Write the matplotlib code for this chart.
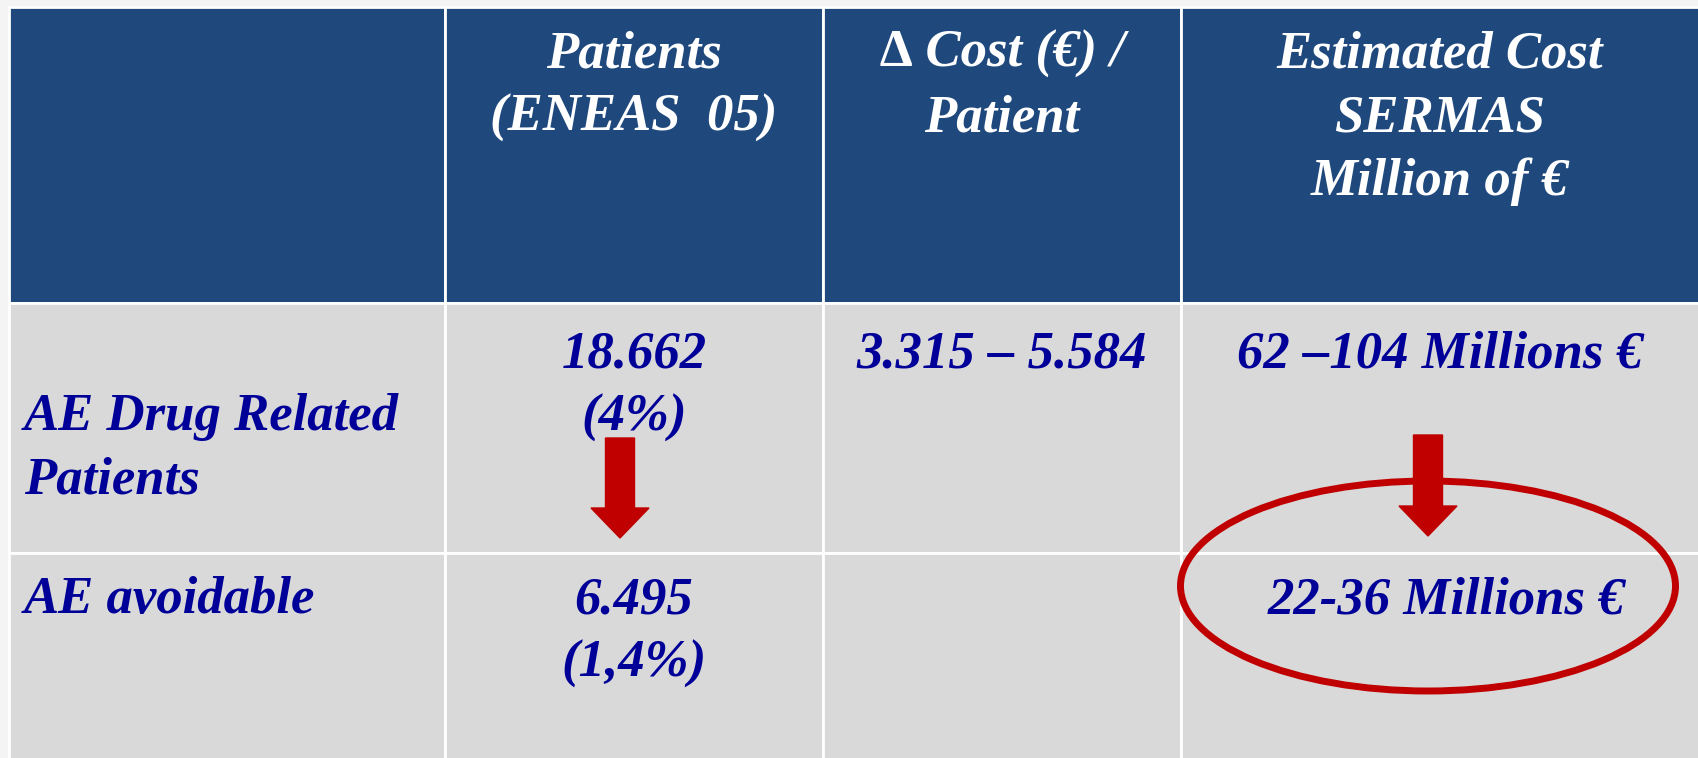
import matplotlib
matplotlib.use('Agg')
import matplotlib.pyplot as plt
from matplotlib.patches import Rectangle, Ellipse

# table contents
header = ['', 'Patients\n(ENEAS  05)', '\u2206 Cost (\u20ac) /\nPatient',
          'Estimated Cost\nSERMAS\nMillion of \u20ac']
row_labels = ['AE Drug Related\nPatients', 'AE avoidable']
patients = ['18.662\n(4%)', '6.495\n(1,4%)']
cost_per_patient = ['3.315 \u2013 5.584', '']
estimated_cost = ['62 \u2013104 Millions \u20ac', '22-36 Millions \u20ac']

# layout (pixels of the 1698x758 canvas)
W, H = 1698, 758
col_edges = [9, 445, 823, 1181, 1700]
row_edges = [7, 303, 553, 760]
header_base = 67
row_base = [367, 613]
pitch = 64

HEAD_BG = '#1F497D'
BODY_BG = '#D9D9D9'
TXT_BLUE = '#000099'
RED = '#C00000'
FONT = ['Liberation Serif', 'DejaVu Serif']
FS = 38

fig = plt.figure(figsize=(W / 100, H / 100), dpi=100, facecolor='#F4F4F4')
ax = fig.add_axes([0, 0, 1, 1])
ax.set_xlim(0, W)
ax.set_ylim(H, 0)
ax.axis('off')

for r in range(3):
    for c in range(4):
        x0, x1 = col_edges[c], col_edges[c + 1]
        y0, y1 = row_edges[r], row_edges[r + 1]
        ax.add_patch(Rectangle((x0, y0), x1 - x0, y1 - y0,
                               facecolor=HEAD_BG if r == 0 else BODY_BG,
                               edgecolor='white', linewidth=2))


def put(text, x, y, ha, color):
    for i, line in enumerate(text.split('\n')):
        ax.text(x, y + i * pitch, line, ha=ha, va='baseline', color=color,
                fontsize=FS, fontweight='bold', fontstyle='italic', family=FONT)


mids = [(col_edges[i] + col_edges[i + 1]) / 2 for i in range(4)]
mids[3] = 1440

for c, h in enumerate(header):
    if h:
        put(h, mids[c], header_base, 'center', 'white')

for r in range(2):
    put(row_labels[r], 24, row_base[r] + (63 if r == 0 else 0), 'left', TXT_BLUE)
    put(patients[r], mids[1], row_base[r], 'center', TXT_BLUE)
    if cost_per_patient[r]:
        put(cost_per_patient[r], mids[2], row_base[r], 'center', TXT_BLUE)
    put(estimated_cost[r], mids[3] + (6 if r == 1 else 0), row_base[r], 'center', TXT_BLUE)

# red arrows and highlight ellipse
for ax_x, y_top, y_tip in [(620, 438, 538), (1428, 435, 536)]:
    ax.arrow(ax_x, y_top, 0, y_tip - y_top, width=29, head_width=58,
             head_length=30, length_includes_head=True, color=RED, zorder=5)
ax.add_patch(Ellipse((1428, 586), 495, 210, fill=False, edgecolor=RED,
                     linewidth=5, zorder=6))

fig.savefig('out.png', dpi=100, facecolor=fig.get_facecolor())
